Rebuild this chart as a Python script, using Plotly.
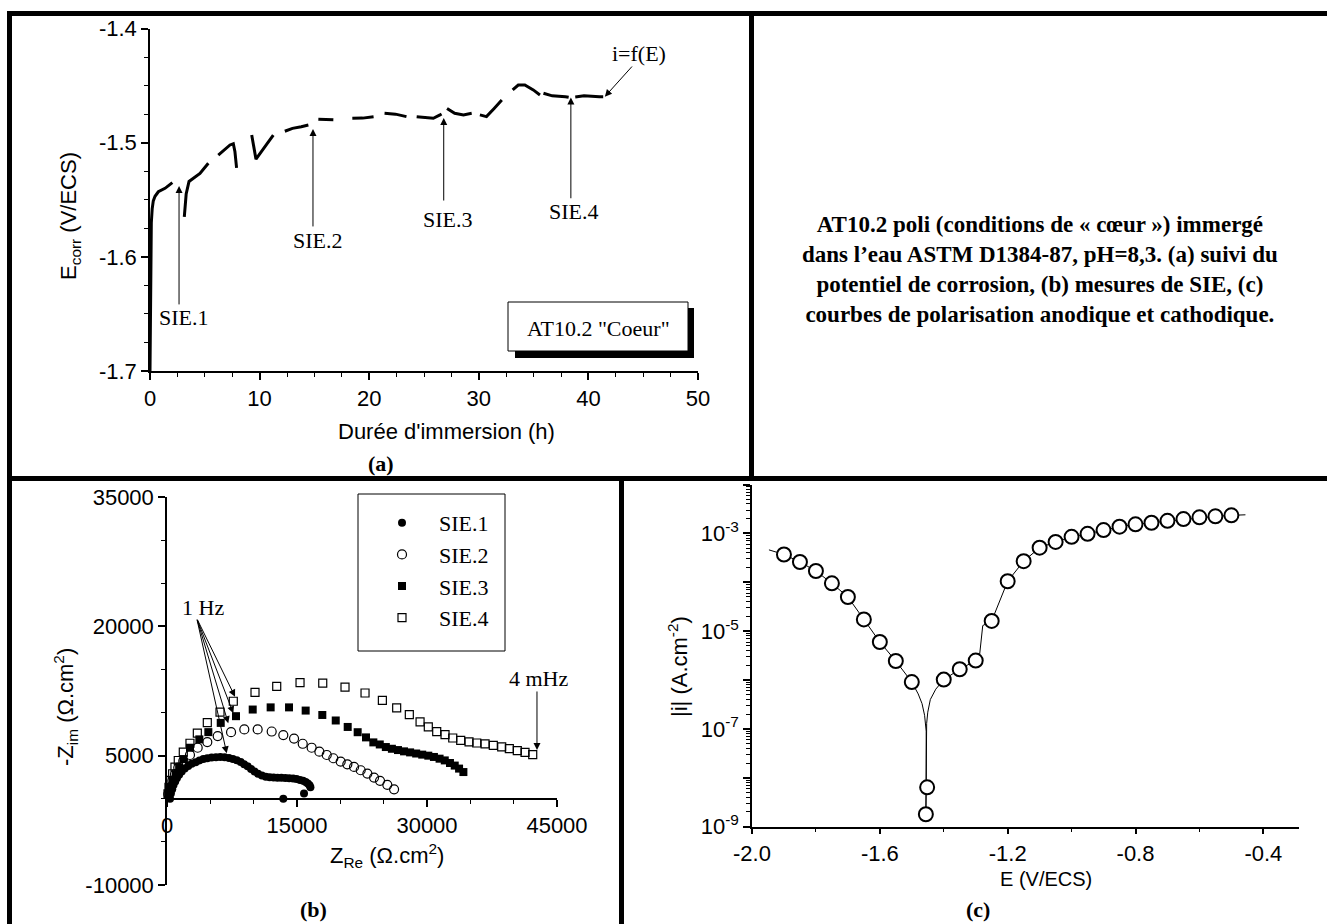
import plotly.graph_objects as go

W, H = 1327, 924
SANS = "Liberation Sans, Arial, sans-serif"
SERIF = "Liberation Serif, Times New Roman, serif"

# ---- (a) corrosion potential vs immersion time (None = gap between recordings)
t_h = [0.0, 0.03, 0.07, 0.12, 0.2, 0.3, 0.46, 0.76, 1.37, 2.04, None,
       3.13, 3.3, 3.56, 3.95, 4.56, 5.32, None,
       6.23, 6.8, 7.3, 7.6, 7.75, 7.9, None,
       9.28, 9.67, 10.49, 11.25, None,
       12.3, 13.0, 13.8, 14.45, None,
       15.36, 16.0, 16.73, None,
       18.46, 19.4, 20.4, None,
       21.4, 22.4, 23.4, None,
       24.33, 25.1, 25.85, 26.46, 26.6, None,
       27.1, 27.8, 28.6, 29.35, None,
       30.1, 30.7, 31.4, 32.1, None,
       33.09, 33.6, 34.2, 34.97, 35.58, None,
       35.9, 36.7, 37.9, 38.2, None,
       38.8, 39.6, 41.0, 41.35]
e_corr = [-1.70, -1.64, -1.59, -1.570, -1.558, -1.551, -1.547, -1.543, -1.540, -1.535, None,
          -1.565, -1.545, -1.534, -1.531, -1.527, -1.518, None,
          -1.511, -1.506, -1.502, -1.501, -1.508, -1.522, None,
          -1.4933, -1.5145, -1.5035, -1.4933, None,
          -1.490, -1.4875, -1.486, -1.4845, None,
          -1.4795, -1.4800, -1.4800, None,
          -1.4787, -1.4785, -1.4772, None,
          -1.4743, -1.4750, -1.4772, None,
          -1.4772, -1.4780, -1.4786, -1.4757, -1.4749, None,
          -1.4700, -1.4743, -1.4757, -1.4743, None,
          -1.4757, -1.4772, -1.4700, -1.4626, None,
          -1.4538, -1.4495, -1.4495, -1.4538, -1.4582, None,
          -1.4567, -1.4590, -1.4597, -1.4602, None,
          -1.4600, -1.4590, -1.4597, -1.4597]

# ---- (b) Nyquist diagrams
sie1_re = [350, 450, 600, 750, 950, 1150, 1400, 1700, 2050, 2450, 2850, 3300, 3750, 4200,
           4650, 5150, 5650, 6150, 6650, 7150, 7600, 8050, 8500, 8900, 9300, 9700, 10100,
           10500, 10950, 11400, 11850, 12300, 12750, 13200, 13650, 14100, 14550, 14950,
           15350, 15700, 16000, 16250, 16450, 16550, 15810, 13420]
sie1_im = [0, 600, 1100, 1600, 2000, 2400, 2800, 3150, 3500, 3800, 4050, 4250, 4450, 4600,
           4700, 4780, 4820, 4840, 4810, 4730, 4610, 4460, 4260, 4010, 3760, 3460, 3160,
           2910, 2710, 2560, 2490, 2460, 2440, 2430, 2410, 2380, 2340, 2280, 2190, 2080,
           1940, 1760, 1560, 1330, 610, 0]

sie2_re = [150, 350, 620, 920, 1300, 1880, 2650, 3540, 4650, 5850, 7390, 8920, 10460,
           12080, 13420, 14660, 15660, 16690, 17580, 18430, 19190, 20040, 20810, 21580,
           22350, 23120, 23890, 24580, 25420, 26200]
sie2_im = [540, 1310, 2080, 2850, 3610, 4390, 5080, 5920, 6580, 7270, 7730, 8040, 8040,
           7800, 7390, 6980, 6380, 5920, 5460, 5080, 4700, 4310, 4000, 3690, 3310, 2920,
           2460, 2080, 1620, 1100]

sie3_re = [150, 350, 650, 1000, 1400, 1900, 2650, 3730, 4770, 6200, 7960, 9890, 11960,
           14080, 16000, 17920, 19470, 20850, 22000, 22960, 23810, 24550, 25250, 25950,
           26650, 27350, 28050, 28750, 29450, 30150, 30800, 31450, 32050, 32650, 33200,
           33700, 34200]
sie3_im = [540, 1310, 2080, 2850, 3650, 4600, 5920, 6890, 7730, 8800, 9580, 10350, 10600,
           10600, 10230, 9720, 9080, 8330, 7720, 7120, 6540, 6300, 6000, 5800, 5650, 5500,
           5380, 5250, 5120, 5000, 4850, 4650, 4450, 4150, 3850, 3500, 3100]

sie4_re = [115, 230, 430, 650, 920, 1300, 1880, 2650, 3500, 4650, 6116, 7650, 10155,
           12660, 15350, 17970, 20540, 22850, 24850, 26500, 27960, 29200, 30150, 31120,
           32080, 32970, 33890, 34850, 35740, 36700, 37650, 38620, 39500, 40420, 41310, 42200]
sie4_im = [560, 1330, 2130, 2900, 3670, 4440, 5400, 6440, 7610, 8840, 10040, 11310, 12350,
           13040, 13470, 13420, 12960, 12270, 11420, 10540, 9770, 8920, 8340, 7790, 7440,
           7050, 6780, 6590, 6470, 6360, 6200, 6010, 5810, 5580, 5390, 5120]

# ---- (c) polarisation curve
pol_e = [-1.90, -1.85, -1.80, -1.75, -1.70, -1.65, -1.60, -1.55, -1.50, -1.452, -1.456,
         -1.40, -1.35, -1.30, -1.25, -1.20, -1.15, -1.10, -1.05, -1.00, -0.95, -0.90,
         -0.85, -0.80, -0.75, -0.70, -0.65, -0.60, -0.55, -0.50]
pol_i = [3.7e-4, 2.6e-4, 1.7e-4, 9.5e-5, 5.0e-5, 1.74e-5, 6.0e-6, 2.45e-6, 9.1e-7, 6.4e-9,
         1.8e-9, 1.02e-6, 1.66e-6, 2.5e-6, 1.62e-5, 1.05e-4, 2.7e-4, 5.1e-4, 6.7e-4, 8.5e-4,
         9.8e-4, 1.17e-3, 1.37e-3, 1.53e-3, 1.65e-3, 1.81e-3, 1.96e-3, 2.13e-3, 2.23e-3, 2.34e-3]
pol_line_e = [-1.947, -1.90, -1.85, -1.80, -1.75, -1.70, -1.65, -1.60, -1.55, -1.50, -1.48,
              -1.468, -1.460, -1.4565, -1.455, -1.455, -1.456, -1.455, -1.4545, -1.4535,
              -1.450, -1.442, -1.425, -1.40, -1.35, -1.30, -1.288, -1.283, -1.278, -1.25,
              -1.20, -1.15, -1.10, -1.05, -1.00, -0.95, -0.90, -0.85, -0.80, -0.75, -0.70,
              -0.65, -0.60, -0.55, -0.50, -0.456]
pol_line_i = [4.6e-4, 3.7e-4, 2.6e-4, 1.7e-4, 9.5e-5, 5.0e-5, 1.74e-5, 6.0e-6, 2.45e-6,
              9.1e-7, 5.2e-7, 3.3e-7, 1.9e-7, 1.2e-7, 9e-8, 6.4e-9, 1.8e-9, 6.4e-9, 9e-8,
              1.3e-7, 2.2e-7, 4.0e-7, 6.5e-7, 1.02e-6, 1.66e-6, 2.5e-6, 3.2e-6, 8.0e-6,
              1.3e-5, 1.62e-5, 1.05e-4, 2.7e-4, 5.1e-4, 6.7e-4, 8.5e-4, 9.8e-4, 1.17e-3,
              1.37e-3, 1.53e-3, 1.65e-3, 1.81e-3, 1.96e-3, 2.13e-3, 2.23e-3, 2.34e-3, 2.4e-3]

# ---- tick labels
a_xticks = [0, 10, 20, 30, 40, 50]
a_xtext = ["0", "10", "20", "30", "40", "50"]
a_yticks = [-1.7, -1.6, -1.5, -1.4]
a_ytext = ["-1.7", "-1.6", "-1.5", "-1.4"]
b_xticks = [0, 15000, 30000, 45000]
b_xtext = ["0", "15000", "30000", "45000"]
b_yticks = [-10000, 5000, 20000, 35000]
b_ytext = ["-10000", "5000", "20000", "35000"]
c_xticks = [-2.0, -1.6, -1.2, -0.8, -0.4]
c_xtext = ["-2.0", "-1.6", "-1.2", "-0.8", "-0.4"]
c_yticks = [1e-9, 1e-8, 1e-7, 1e-6, 1e-5, 1e-4, 1e-3, 1e-2]
c_ytext = ["10<sup>-9</sup>", "", "10<sup>-7</sup>", "", "10<sup>-5</sup>", "",
           "10<sup>-3</sup>", ""]


def fx(px):
    return px / W


def fy(py):
    return 1 - py / H


def axis(**kw):
    base = dict(showline=True, linecolor="black", linewidth=1.5, ticks="outside",
                ticklen=7, tickwidth=1.5, tickcolor="black", showgrid=False,
                zeroline=False, tickmode="array", automargin=False,
                tickfont=dict(family=SANS, size=22, color="black"))
    base.update(kw)
    return base


def minor(step, start=0):
    return dict(ticks="outside", ticklen=4, tickwidth=1.2, tickcolor="black",
                dtick=step, tick0=start, showgrid=False)


fig = go.Figure()

# (a)
fig.add_trace(go.Scatter(x=t_h, y=e_corr, mode="lines", xaxis="x", yaxis="y",
                         line=dict(color="black", width=3), connectgaps=False,
                         showlegend=False))

# (b)
nyquist = [
    ("SIE.1", sie1_re, sie1_im, dict(symbol="circle", size=8, color="black")),
    ("SIE.2", sie2_re, sie2_im, dict(symbol="circle-open", size=9, color="black",
                                     line=dict(width=1.2))),
    ("SIE.3", sie3_re, sie3_im, dict(symbol="square", size=8, color="black")),
    ("SIE.4", sie4_re, sie4_im, dict(symbol="square-open", size=8, color="black",
                                     line=dict(width=1.2))),
]
for name, zre, zim, mk in nyquist:
    fig.add_trace(go.Scatter(x=zre, y=zim, mode="markers", name=name, marker=mk,
                             xaxis="x2", yaxis="y2", cliponaxis=False))

# (c)
fig.add_trace(go.Scatter(x=pol_line_e, y=pol_line_i, mode="lines", xaxis="x3", yaxis="y3",
                         line=dict(color="black", width=1), showlegend=False))
fig.add_trace(go.Scatter(x=pol_e, y=pol_i, mode="markers", xaxis="x3", yaxis="y3",
                         marker=dict(symbol="circle", size=14, color="white",
                                     line=dict(color="black", width=2)),
                         cliponaxis=False, showlegend=False))

fig.update_layout(
    width=W, height=H, margin=dict(l=0, r=0, t=0, b=0),
    paper_bgcolor="white", plot_bgcolor="white",
    xaxis=axis(domain=[fx(150), fx(698)], range=[0, 50], anchor="y",
               tickvals=a_xticks, ticktext=a_xtext, minor=minor(2.5)),
    yaxis=axis(domain=[fy(371), fy(28.5)], range=[-1.7, -1.4], anchor="x",
               tickvals=a_yticks, ticktext=a_ytext, minor=minor(0.025, -1.7)),
    xaxis2=axis(domain=[fx(167), fx(557)], range=[0, 45000], anchor="free",
                position=fy(798.8), tickvals=b_xticks, ticktext=b_xtext,
                minor=minor(5000)),
    yaxis2=axis(domain=[fy(885), fy(497)], range=[-10000, 35000], anchor="x2",
                tickvals=b_yticks, ticktext=b_ytext, minor=minor(5000)),
    xaxis3=axis(domain=[fx(752), fx(1298.5)], range=[-2.0, -0.29], anchor="y3",
                tickvals=c_xticks, ticktext=c_xtext, minor=minor(0.2, -2.0),
                ticklen=6),
    yaxis3=axis(domain=[fy(826.7), fy(484.5)], type="log", range=[-9, -2], anchor="x3",
                tickvals=c_yticks, ticktext=c_ytext,
                minor=dict(ticks="outside", ticklen=4, tickwidth=1, tickcolor="black",
                           dtick="D1", showgrid=False)),
    legend=dict(x=fx(365), y=fy(502), xanchor="left", yanchor="top",
                borderwidth=0, bgcolor="rgba(0,0,0,0)",
                font=dict(family=SERIF, size=22, color="black"), itemwidth=64),
)

ann = []


def text(x, y, s, ref=None, size=22, family=SERIF, angle=0, bold=False):
    if bold:
        s = f"<b>{s}</b>"
    d = dict(text=s, showarrow=False, textangle=angle, xanchor="center",
             yanchor="middle", font=dict(family=family, size=size, color="black"))
    if ref is None:
        d.update(x=fx(x), y=fy(y), xref="paper", yref="paper")
    else:
        d.update(x=x, y=y, xref="x" + ref, yref="y" + ref)
    return d


def arrow(x, y, ax, ay, ref=""):
    return dict(x=x, y=y, ax=ax, ay=ay, xref="x" + ref, yref="y" + ref,
                axref="x" + ref, ayref="y" + ref, text="", showarrow=True,
                arrowhead=2, arrowsize=1.4, arrowwidth=1, arrowcolor="black")


# (a) labels and arrows
ann += [text(3.1, -1.6535, "SIE.1", ref=""), arrow(2.65, -1.538, 2.65, -1.643),
        text(15.33, -1.586, "SIE.2", ref=""), arrow(14.87, -1.488, 14.87, -1.5747),
        text(27.2, -1.5677, "SIE.3", ref=""), arrow(26.8, -1.4784, 26.8, -1.552),
        text(38.7, -1.5607, "SIE.4", ref=""), arrow(38.4, -1.4605, 38.4, -1.550),
        text(44.6, -1.4215, "i=f(E)", ref=""), arrow(41.5, -1.4597, 44.1, -1.432),
        text(598, 328, "AT10.2 \"Coeur\""),
        text(446, 431, "Durée d'immersion (h)", family=SANS),
        text(70, 216, "E<sub>corr</sub> (V/ECS)", family=SANS, angle=-90),
        text(381, 463, "(a)", bold=True)]

# (b)
ann += [text(4110, 22130, "1 Hz", ref="2"),
        arrow(6890, 5280, 3430, 20930, "2"), arrow(7070, 8760, 3430, 20930, "2"),
        arrow(7650, 9920, 3430, 20930, "2"), arrow(7850, 11840, 3430, 20930, "2"),
        text(42870, 13900, "4 mHz", ref="2"), arrow(42690, 5660, 42690, 12620, "2"),
        text(387, 855, "Z<sub>Re</sub> (Ω.cm<sup>2</sup>)", family=SANS),
        text(65, 707, "-Z<sub>im</sub> (Ω.cm<sup>2</sup>)", family=SANS, angle=-90),
        text(313, 909, "(b)", bold=True)]

# (c)
ann += [text(1046, 879, "E (V/ECS)", family=SANS, size=20),
        text(678, 667, "|i| (A.cm<sup>-2</sup>)", family=SANS, angle=-90),
        text(978, 909, "(c)", bold=True)]

# caption
caption = ["AT10.2 poli (conditions de « cœur ») immergé",
           "dans l’eau ASTM D1384-87, pH=8,3. (a) suivi du",
           "potentiel de corrosion, (b) mesures de SIE, (c)",
           "courbes de polarisation anodique et cathodique."]
ann.append(text(1040, 270, "<br>".join(caption), size=23, bold=True))

fig.update_layout(annotations=ann)


def rect(x0, y0, x1, y1, **kw):
    return dict(type="rect", xref="paper", yref="paper", x0=fx(x0), x1=fx(x1),
                y0=fy(y1), y1=fy(y0), **kw)


def seg(x0, y0, x1, y1, w=5):
    return dict(type="line", xref="paper", yref="paper", x0=fx(x0), x1=fx(x1),
                y0=fy(y0), y1=fy(y1), line=dict(color="black", width=w))


shapes = [
    seg(7, 13.5, W, 13.5), seg(9.5, 11, 9.5, H),
    seg(7, 478.5, W, 478.5), seg(751.5, 11, 751.5, 481),
    seg(621.5, 476, 621.5, H),
    rect(515, 308, 694, 358, fillcolor="black", line=dict(width=0)),
    rect(508, 302, 688, 351, fillcolor="white", line=dict(color="black", width=1)),
    rect(358, 494, 505, 651, line=dict(color="black", width=1)),
]
fig.update_layout(shapes=shapes)

fig.write_html("out.html", config={"displayModeBar": False},
               post_script="document.body.style.margin='0';")
